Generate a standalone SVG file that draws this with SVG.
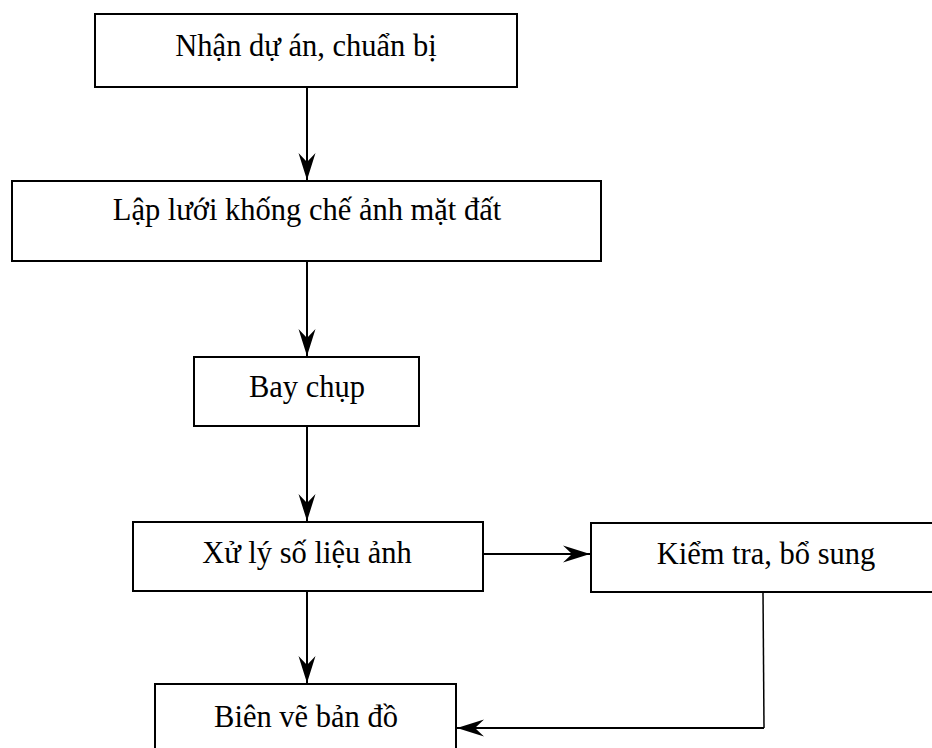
<svg xmlns="http://www.w3.org/2000/svg" width="932" height="748" viewBox="0 0 932 748">
<style>
  .box { fill: #ffffff; stroke: #000000; stroke-width: 2; }
  .lbl { font-family: "Liberation Serif", "Times New Roman", serif; font-size: 30.5px; fill: #000000; text-anchor: middle; }
  .conn { fill: none; stroke: #000000; stroke-width: 2; }
  .thin { fill: none; stroke: #000000; stroke-width: 1.5; }
</style>
<defs>
  <marker id="arr" markerUnits="userSpaceOnUse" viewBox="-30 -10 32 20" markerWidth="32" markerHeight="20" refX="0" refY="0" orient="auto">
    <path d="M0,0 L-27,-8.5 L-18,0 L-27,8.5 Z" fill="#000000"/>
  </marker>
</defs>
<rect width="932" height="748" fill="#ffffff"/>
<g id="connectors">
  <line class="conn" x1="307" y1="87" x2="307" y2="180" marker-end="url(#arr)"/>
  <line class="conn" x1="307" y1="261" x2="307" y2="356" marker-end="url(#arr)"/>
  <line class="conn" x1="307" y1="426" x2="307" y2="521" marker-end="url(#arr)"/>
  <line class="conn" x1="483" y1="554" x2="590" y2="554" marker-end="url(#arr)"/>
  <line class="conn" x1="307" y1="591" x2="307" y2="683" marker-end="url(#arr)"/>
  <polyline class="thin" points="763,592 764,728"/>
  <line class="conn" x1="764" y1="728" x2="457" y2="728" marker-end="url(#arr)"/>
</g>
<g id="n1">
  <rect class="box" x="95" y="14" width="422" height="73"/>
  <text class="lbl" x="306" y="56">Nhận dự án, chuẩn bị</text>
</g>
<g id="n2">
  <rect class="box" x="12" y="181" width="589" height="80"/>
  <text class="lbl" x="307" y="220">Lập lưới khống chế ảnh mặt đất</text>
</g>
<g id="n3">
  <rect class="box" x="194" y="357" width="225" height="69"/>
  <text class="lbl" x="307" y="397">Bay chụp</text>
</g>
<g id="n4">
  <rect class="box" x="133" y="522" width="350" height="69"/>
  <text class="lbl" x="307" y="563">Xử lý số liệu ảnh</text>
</g>
<g id="n5">
  <rect class="box" x="591" y="523" width="350" height="69"/>
  <text class="lbl" x="766" y="564">Kiểm tra, bổ sung</text>
</g>
<g id="n6">
  <rect class="box" x="155" y="684" width="301" height="72"/>
  <text class="lbl" x="306" y="727">Biên vẽ bản đồ</text>
</g>
</svg>
